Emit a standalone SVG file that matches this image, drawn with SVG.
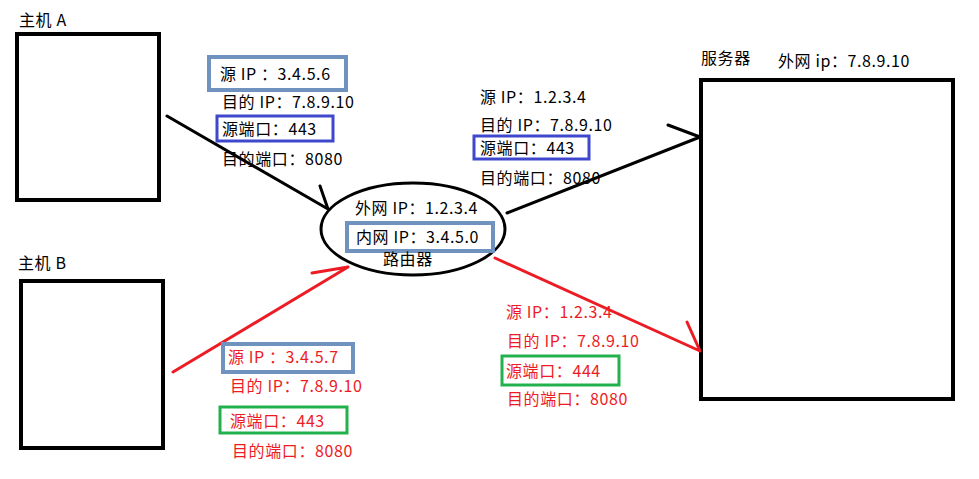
<svg xmlns="http://www.w3.org/2000/svg" width="979" height="479" viewBox="0 0 979 479">
<style>
text{font-family:"Microsoft YaHei","Noto Sans CJK SC","Liberation Sans",sans-serif;font-size:16px;letter-spacing:0.6px;fill:#000}
.r{fill:#ED1C24}
.box{fill:none;stroke:#000;stroke-width:4}
.sb{fill:none;stroke:#7092BE;stroke-width:4}
.bl{fill:none;stroke:#3F48CC;stroke-width:3}
.gr{fill:none;stroke:#22B14C;stroke-width:3}
.lk{stroke:#000;stroke-width:3;fill:none;stroke-linecap:round}
.lr{stroke:#ED1C24;stroke-width:3;fill:none;stroke-linecap:round}
</style>
<rect width="979" height="479" fill="#fff"/>
<g id="hostA">
<rect class="box" x="17" y="34" width="142" height="166"/>
<text x="19" y="26">主机 A</text>
</g>
<g id="hostB">
<rect class="box" x="21" y="281" width="142" height="167"/>
<text x="18" y="269">主机 B</text>
</g>
<g id="server">
<rect class="box" x="701" y="80" width="252" height="319"/>
<text x="701" y="64">服务器</text>
<text x="778" y="67">外网 ip：7.8.9.10</text>
</g>
<g id="router">
<ellipse cx="413" cy="229" rx="92" ry="46" fill="none" stroke="#000" stroke-width="3"/>
<text x="355" y="214">外网 IP：1.2.3.4</text>
<rect class="sb" x="347" y="223" width="146" height="28"/>
<text x="356" y="243">内网 IP：3.4.5.0</text>
<text x="383" y="265">路由器</text>
</g>
<g id="connectors">
<path class="lk" d="M167 116 L328 209 M320 186 L328 209"/>
<path class="lk" d="M507 213 L700 137 M668 125 L700 137"/>
<path class="lr" d="M173 372 L348 267 M312 273 L348 267"/>
<path class="lr" d="M495 258 L700 351 M687 322 L700 351"/>
</g>
<g id="labelA">
<rect class="sb" x="209" y="57" width="137" height="33"/>
<text x="220" y="80">源 IP ：3.4.5.6</text>
<text x="222" y="108">目的 IP：7.8.9.10</text>
<rect class="bl" x="217" y="116" width="116" height="25"/>
<text x="222" y="135">源端口：443</text>
<text x="222" y="165">目的端口：8080</text>
</g>
<g id="labelRouterOut">
<text x="480" y="103">源 IP：1.2.3.4</text>
<text x="480" y="131">目的 IP：7.8.9.10</text>
<rect class="bl" x="474" y="136" width="115" height="23"/>
<text x="480" y="154">源端口：443</text>
<text x="480" y="184">目的端口：8080</text>
</g>
<g id="labelB">
<rect class="sb" x="223" y="344" width="130" height="28"/>
<text class="r" x="228" y="363">源 IP ：3.4.5.7</text>
<text class="r" x="230" y="392">目的 IP：7.8.9.10</text>
<rect class="gr" x="220" y="407" width="127" height="26"/>
<text class="r" x="230" y="427">源端口：443</text>
<text class="r" x="232" y="457">目的端口：8080</text>
</g>
<g id="labelRouterB">
<text class="r" x="506" y="318">源 IP：1.2.3.4</text>
<text class="r" x="507" y="347">目的 IP：7.8.9.10</text>
<rect class="gr" x="502" y="356" width="117" height="29"/>
<text class="r" x="506" y="377">源端口：444</text>
<text class="r" x="507" y="405">目的端口：8080</text>
</g>
</svg>
